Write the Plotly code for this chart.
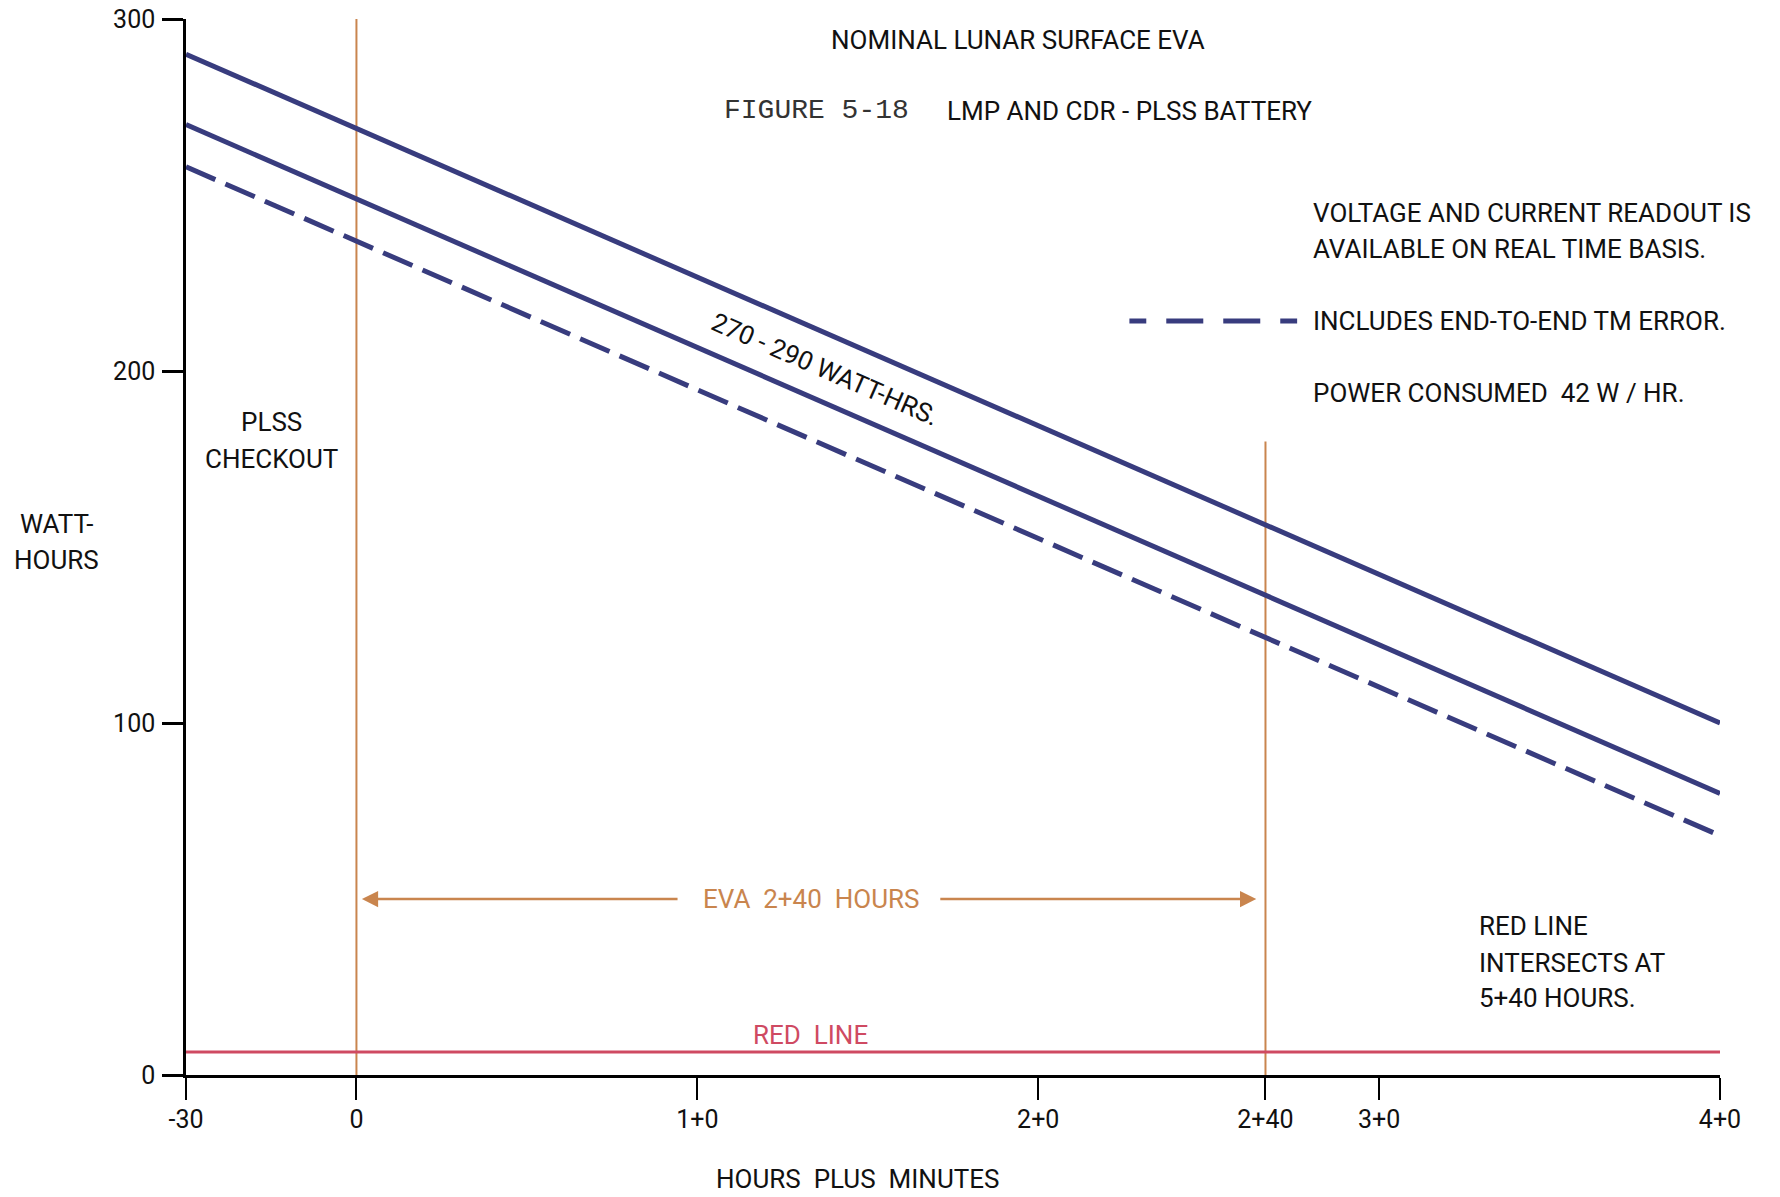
import plotly.graph_objects as go

# ---- data ----
time_hours = [-0.5, 4.0]                 # -30 min to 4+0
upper_wh = [290, 100]                    # 290 W-hr battery
lower_wh = [270, 80]                     # 270 W-hr battery
tm_error_wh = [258, 68]                  # includes end-to-end TM error
red_line_wh = [6.5, 6.5]
eva_start = 0.0
eva_end = 8 / 3                          # 2+40
checkout_line_wh = [0, 300]
eva_end_line_wh = [0, 180]

x_tickvals = [-0.5, 0, 1, 2, 8 / 3, 3, 4]
x_ticktext = ["-30", "0", "1+0", "2+0", "2+40", "3+0", "4+0"]
y_tickvals = [0, 100, 200, 300]
y_ticktext = ["0", "100", "200", "300"]

NAVY = "#383C7E"
ORANGE = "#C9854E"
RED = "#CF4A62"
INK = "#111111"
SANS = "Roboto, Liberation Sans, sans-serif"
MONO = "Liberation Mono, Courier New, monospace"
FS = 26

fig = go.Figure()

# vertical EVA markers
fig.add_trace(go.Scatter(x=[eva_start, eva_start], y=checkout_line_wh, mode="lines",
                         line=dict(color=ORANGE, width=2), hoverinfo="skip"))
fig.add_trace(go.Scatter(x=[eva_end, eva_end], y=eva_end_line_wh, mode="lines",
                         line=dict(color=ORANGE, width=2), hoverinfo="skip"))
# red line
fig.add_trace(go.Scatter(x=time_hours, y=red_line_wh, mode="lines",
                         line=dict(color=RED, width=3), hoverinfo="skip"))
# battery lines
fig.add_trace(go.Scatter(x=time_hours, y=upper_wh, mode="lines",
                         line=dict(color=NAVY, width=5)))
fig.add_trace(go.Scatter(x=time_hours, y=lower_wh, mode="lines",
                         line=dict(color=NAVY, width=5)))
fig.add_trace(go.Scatter(x=time_hours, y=tm_error_wh, mode="lines",
                         line=dict(color=NAVY, width=5, dash="32px,11px")))

ann = []
def txt(x, y, text, size=FS, color=INK, family=SANS, xanchor="center", yanchor="middle",
        xref="x", yref="y", angle=0, align="center"):
    ann.append(dict(x=x, y=y, xref=xref, yref=yref, text=text, showarrow=False,
                    font=dict(size=size, color=color, family=family),
                    xanchor=xanchor, yanchor=yanchor, textangle=angle, align=align))

txt(1.94, 294, "NOMINAL LUNAR SURFACE EVA")
txt(1.072, 274, "FIGURE 5-18", family=MONO, size=28, color="#333333", xanchor="left")
txt(1.726, 274, "LMP AND CDR - PLSS BATTERY", xanchor="left")
txt(2.799, 245, "VOLTAGE AND CURRENT READOUT IS", xanchor="left")
txt(2.799, 234.7, "AVAILABLE ON REAL TIME BASIS.", xanchor="left")
txt(2.799, 214.2, "INCLUDES END-TO-END TM ERROR.", xanchor="left")
txt(2.799, 193.8, "POWER CONSUMED  42 W / HR.", xanchor="left")
txt(-0.25, 185.5, "PLSS")
txt(-0.25, 175.0, "CHECKOUT")
txt(1.374, 200.6, "270 - 290 WATT-HRS.", angle=23.5)
txt((eva_start + eva_end) / 2, 50, "EVA  2+40  HOURS", color=ORANGE)
txt((eva_start + eva_end) / 2, red_line_wh[0] + 4.9, "RED  LINE", color=RED)
txt(3.286, 42.4, "RED LINE", xanchor="left")
txt(3.286, 31.9, "INTERSECTS AT", xanchor="left")
txt(3.286, 21.9, "5+40 HOURS.", xanchor="left")
txt(-0.0841, 0.5215, "WATT-", xref="paper", yref="paper")
txt(-0.0841, 0.4875, "HOURS", xref="paper", yref="paper")
txt(0.438, -0.0985, "HOURS  PLUS  MINUTES", xref="paper", yref="paper")

# EVA duration arrows
mid = (eva_start + eva_end) / 2
for tip, tail in [(eva_start + 0.016, mid - 0.387), (eva_end - 0.027, mid + 0.375)]:
    ann.append(dict(x=tip, y=50, ax=tail, ay=50, xref="x", yref="y", axref="x", ayref="y",
                    text="", showarrow=True, arrowhead=2, arrowsize=1.3, arrowwidth=2.5,
                    arrowcolor=ORANGE, standoff=0, startstandoff=0))

# legend sample for the dashed line: two halves growing outward from the centre
c = 2.5135
shapes = [
    dict(type="line", xref="x", yref="y", x0=c + 0.0293, x1=c + 0.246, y0=214.2, y1=214.2,
         line=dict(color=NAVY, width=5, dash="37px,20px")),
    dict(type="line", xref="x", yref="y", x0=c - 0.0293, x1=c - 0.246, y0=214.2, y1=214.2,
         line=dict(color=NAVY, width=5, dash="37px,20px")),
]

fig.update_layout(
    width=1780, height=1197,
    margin=dict(l=186, r=60, t=19, b=122),
    paper_bgcolor="white", plot_bgcolor="white",
    showlegend=False,
    annotations=ann, shapes=shapes,
    font=dict(family=SANS, color=INK, size=FS),
)
fig.update_xaxes(range=[-0.5, 4.0], tickvals=x_tickvals, ticktext=x_ticktext, automargin=False,
                 showgrid=False, zeroline=False, showline=True, linecolor="black", linewidth=3,
                 ticks="outside", ticklen=22, tickwidth=2, tickcolor="black",
                 tickfont=dict(size=25, family=SANS, color=INK), ticklabelstandoff=-2,
                 ticklabeloverflow="allow")
fig.update_yaxes(range=[0, 300], tickvals=y_tickvals, ticktext=y_ticktext, automargin=False,
                 showgrid=False, zeroline=False, showline=True, linecolor="black", linewidth=2.5,
                 ticks="outside", ticklen=21, tickwidth=2.5, tickcolor="black",
                 tickfont=dict(size=25, family=SANS, color=INK), ticklabelstandoff=2,
                 ticklabeloverflow="allow")

fig.write_html("out.html", config={"displayModeBar": False},
               post_script="document.body.style.margin='0';")
